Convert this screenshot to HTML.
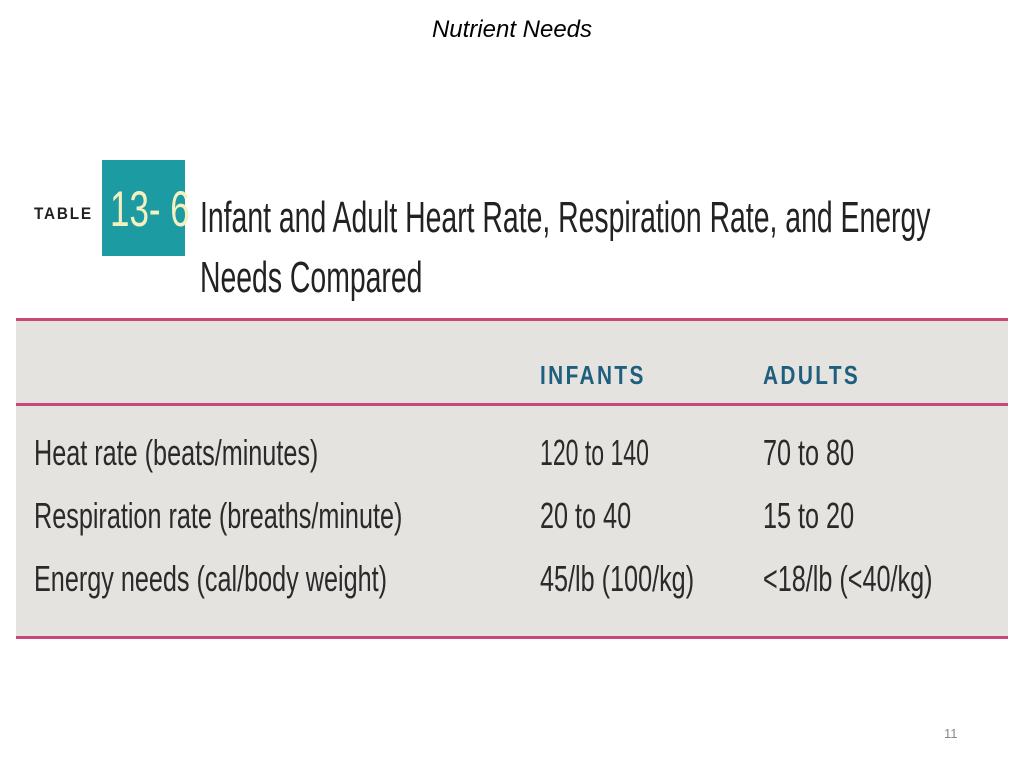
<!DOCTYPE html>
<html><head><meta charset="utf-8"><style>
body{margin:0;width:1024px;height:768px;background:#fff;position:relative;overflow:hidden;font-family:"Liberation Sans",sans-serif}
.a{position:absolute;white-space:nowrap}
.t{color:#2a2a2a;font-size:36px;transform-origin:0 0;transform:scaleX(0.7)}
</style></head><body>
<div class="a" style="left:0;width:1024px;top:16px;text-align:center;font-style:italic;font-size:24px;color:#000">Nutrient Needs</div>
<div class="a" style="left:34px;top:204px;font-weight:bold;font-size:17px;letter-spacing:2px;color:#222;transform-origin:0 0;transform:scaleX(0.9)">TABLE</div>
<div class="a" style="left:102px;top:160px;width:83px;height:96px;background:#1c9ba3"></div>
<div class="a" style="left:110px;top:180px;color:#f4f0c0;font-size:50px;transform-origin:0 0;transform:scaleX(0.7)">13- 6</div>
<div class="a" style="left:200px;top:188px;font-size:44px;line-height:60px;color:#222;transform-origin:0 0;transform:scaleX(0.645)">Infant and Adult Heart Rate, Respiration Rate, and Energy<br>Needs Compared</div>
<div class="a" style="left:16px;top:320px;width:992px;height:318px;background:#e5e3df"></div>
<div class="a" style="left:16px;top:318px;width:992px;height:3px;background:#c8487a"></div>
<div class="a" style="left:16px;top:403px;width:992px;height:3px;background:#c8487a"></div>
<div class="a" style="left:16px;top:636px;width:992px;height:3px;background:#c8487a"></div>
<div class="a" style="left:540px;top:360px;font-weight:bold;font-size:26px;letter-spacing:3px;color:#1e5e7e;transform-origin:0 0;transform:scaleX(0.8)">INFANTS</div>
<div class="a" style="left:763px;top:360px;font-weight:bold;font-size:26px;letter-spacing:3px;color:#1e5e7e;transform-origin:0 0;transform:scaleX(0.8)">ADULTS</div>
<div class="a t" style="left:34px;top:432px">Heat rate (beats/minutes)</div>
<div class="a t" style="left:540px;top:432px;transform:scaleX(0.64)">120 to 140</div>
<div class="a t" style="left:763px;top:432px">70 to 80</div>
<div class="a t" style="left:34px;top:495px">Respiration rate (breaths/minute)</div>
<div class="a t" style="left:540px;top:495px">20 to 40</div>
<div class="a t" style="left:763px;top:495px">15 to 20</div>
<div class="a t" style="left:34px;top:558px">Energy needs (cal/body weight)</div>
<div class="a t" style="left:540px;top:558px">45/lb (100/kg)</div>
<div class="a t" style="left:763px;top:558px">&lt;18/lb (&lt;40/kg)</div>
<div class="a" style="left:944px;top:726px;font-size:13px;color:#888">11</div>
</body></html>
